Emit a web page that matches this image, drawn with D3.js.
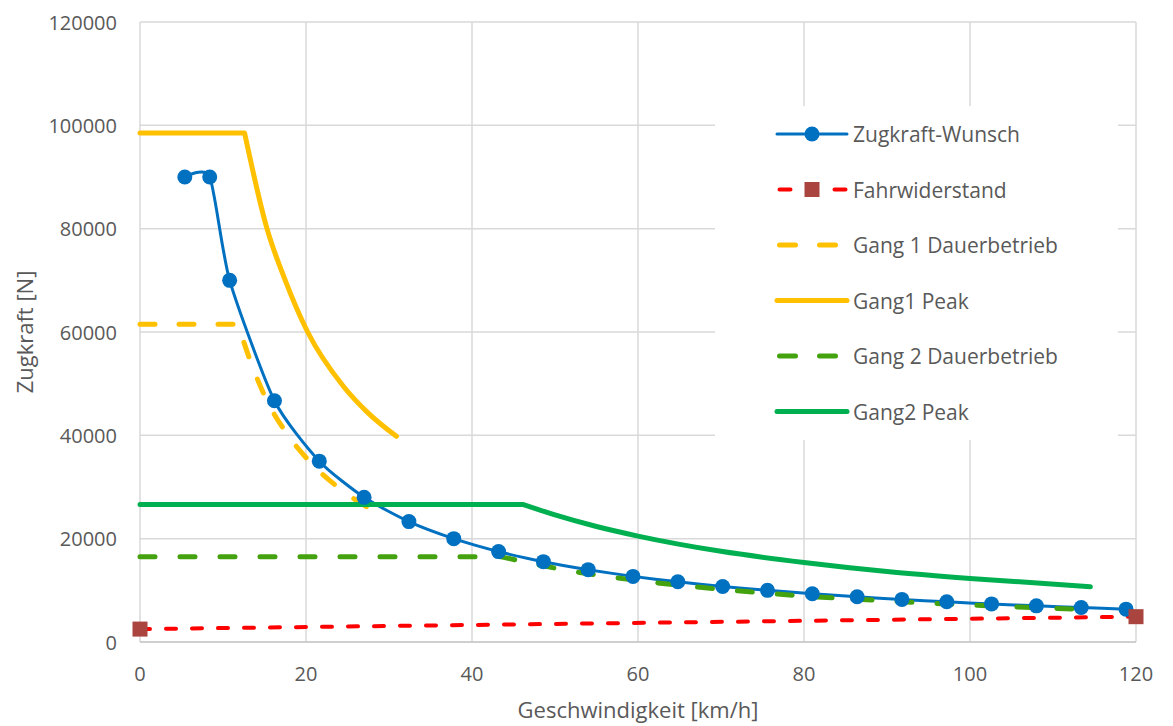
<!DOCTYPE html>
<html lang="de">
<head>
<meta charset="UTF-8">
<title>Zugkraft über Geschwindigkeit</title>
<script src="https://d3js.org/d3.v7.min.js"></script>
<style>
    body { margin: 0; background: #fff; }
    svg { display: block; font-family: "Open Sans", "Noto Sans", sans-serif; }
    .tick-label { fill: #595959; font-size: 20px; }
    .axis-title { fill: #595959; font-size: 22px; }
    .legend-text { fill: #595959; font-size: 21px; }
</style>
</head>
<body>
<svg id="chart" width="1173" height="726"></svg>
<script>
    // axis ticks
    const xTicks = [0, 20, 40, 60, 80, 100, 120];
    const yTicks = [0, 20000, 40000, 60000, 80000, 100000, 120000];

    // Zugkraft-Wunsch (km/h, N)
    const wunschV = [5.4, 8.4, 10.8, 16.2, 21.6, 27, 32.4, 37.8, 43.2, 48.6, 54, 59.4, 64.8, 70.2, 75.6, 81, 86.4, 91.8, 97.2, 102.6, 108, 113.4, 118.8];
    const wunschF = [90000, 90000, 70000, 46700, 35000, 28000, 23300, 20000, 17500, 15550, 14000, 12700, 11650, 10750, 10000, 9330, 8750, 8240, 7780, 7370, 7000, 6670, 6360];

    // Fahrwiderstand
    const widerstandV = [0, 40, 80, 120];
    const widerstandF = [2500, 3300, 4100, 4900];

    // Gang 1 Dauerbetrieb
    const gang1DauerV = [0, 11.8, 13.5, 15.3, 17.8, 21, 25, 28.9];
    const gang1DauerF = [61500, 61500, 53500, 46700, 40100, 34000, 28600, 24700];

    // Gang1 Peak
    const gang1PeakV = [0, 12.6, 15.3, 17.5, 20.2, 24.5, 27.5, 30.9];
    const gang1PeakF = [98500, 98500, 80000, 70000, 60000, 49500, 44300, 39800];

    // Gang 2 Dauerbetrieb
    const gang2DauerV = [0, 43.5, 50, 60, 70, 80, 90, 100, 113.6];
    const gang2DauerF = [16500, 16500, 14300, 11900, 10200, 8900, 7950, 7150, 6330];

    // Gang2 Peak
    const gang2PeakV = [0, 46.2, 50, 55, 60, 70, 80, 90, 100, 114.5];
    const gang2PeakF = [26600, 26600, 24600, 22350, 20500, 17550, 15400, 13650, 12300, 10700];

    const zip = (v, f) => v.map((d, i) => [d, f[i]]);

    const margin = { top: 22, right: 37, bottom: 84, left: 140 };
    const width = 1173 - margin.left - margin.right;
    const height = 726 - margin.top - margin.bottom;

    const svg = d3.select("#chart");
    const g = svg.append("g").attr("transform", `translate(${margin.left},${margin.top})`);

    const x = d3.scaleLinear().domain([0, 120]).range([0, width]);
    const y = d3.scaleLinear().domain([0, 120000]).range([height, 0]);

    // gridlines
    g.append("g").selectAll("line").data(yTicks.slice(1)).join("line")
        .attr("x1", 0).attr("x2", width)
        .attr("y1", d => y(d)).attr("y2", d => y(d))
        .attr("stroke", "#d9d9d9").attr("stroke-width", 1.5);
    g.append("g").selectAll("line").data(xTicks).join("line")
        .attr("x1", d => x(d)).attr("x2", d => x(d))
        .attr("y1", 0).attr("y2", height)
        .attr("stroke", "#d9d9d9").attr("stroke-width", 1.5);
    g.append("line")
        .attr("x1", 0).attr("x2", width).attr("y1", height).attr("y2", height)
        .attr("stroke", "#bfbfbf").attr("stroke-width", 1.5);

    // tick labels
    g.append("g").selectAll("text").data(yTicks).join("text")
        .attr("class", "tick-label")
        .attr("x", -23).attr("y", d => y(d))
        .attr("text-anchor", "end").attr("dominant-baseline", "central")
        .text(d => d);
    g.append("g").selectAll("text").data(xTicks).join("text")
        .attr("class", "tick-label")
        .attr("x", d => x(d)).attr("y", height + 31)
        .attr("text-anchor", "middle").attr("dominant-baseline", "central")
        .text(d => d);

    // axis titles
    svg.append("text").attr("class", "axis-title")
        .attr("x", margin.left + width / 2).attr("y", 718)
        .attr("text-anchor", "middle")
        .text("Geschwindigkeit [km/h]");
    svg.append("text").attr("class", "axis-title")
        .attr("transform", `translate(24,${margin.top + height / 2}) rotate(-90)`)
        .attr("text-anchor", "middle").attr("dominant-baseline", "central")
        .text("Zugkraft [N]");

    const lineLinear = d3.line().x(d => x(d[0])).y(d => y(d[1]));
    const lineSmooth = d3.line().x(d => x(d[0])).y(d => y(d[1])).curve(d3.curveCardinal.tension(0.35));
    const lineMono = d3.line().x(d => x(d[0])).y(d => y(d[1])).curve(d3.curveMonotoneX);

    // flat part straight, then a smooth falling curve from the corner on
    function cornerPath(pts) {
        const flat = lineLinear(pts.slice(0, 2));
        const curve = lineMono(pts.slice(1)).replace(/^M[^C]*/, "");
        return flat + curve;
    }

    const series = [
        { d: lineSmooth(zip(wunschV, wunschF)), color: "#0070c0", w: 3, dash: null },
        { d: lineLinear(zip(widerstandV, widerstandF)), color: "#ff0000", w: 4, dash: "10,16" },
        { d: cornerPath(zip(gang1DauerV, gang1DauerF)), color: "#ffc000", w: 5, dash: "15,24" },
        { d: cornerPath(zip(gang1PeakV, gang1PeakF)), color: "#ffc000", w: 5, dash: null },
        { d: cornerPath(zip(gang2DauerV, gang2DauerF)), color: "#44a20f", w: 5, dash: "15,25" },
        { d: cornerPath(zip(gang2PeakV, gang2PeakF)), color: "#00b050", w: 5, dash: null }
    ];

    g.append("g").selectAll("path").data(series).join("path")
        .attr("d", s => s.d)
        .attr("fill", "none")
        .attr("stroke", s => s.color)
        .attr("stroke-width", s => s.w)
        .attr("stroke-linecap", "round")
        .attr("stroke-linejoin", "round")
        .attr("stroke-dasharray", s => s.dash);

    // markers on top of all lines
    g.append("g").selectAll("circle").data(zip(wunschV, wunschF)).join("circle")
        .attr("cx", d => x(d[0])).attr("cy", d => y(d[1]))
        .attr("r", 7.5).attr("fill", "#0070c0");
    const widerstandPts = zip(widerstandV, widerstandF);
    const widerstandEnds = [widerstandPts[0], widerstandPts[widerstandPts.length - 1]];
    g.append("g").selectAll("rect").data(widerstandEnds).join("rect")
        .attr("x", d => x(d[0]) - 7.5).attr("y", d => y(d[1]) - 7.5)
        .attr("width", 15).attr("height", 15)
        .attr("fill", "#a9443f");

    // legend
    const legendNames = ["Zugkraft-Wunsch", "Fahrwiderstand", "Gang 1 Dauerbetrieb", "Gang1 Peak", "Gang 2 Dauerbetrieb", "Gang2 Peak"];
    svg.append("rect")
        .attr("x", 715).attr("y", 106).attr("width", 403).attr("height", 334)
        .attr("fill", "#fff");
    const leg = svg.append("g").selectAll("g").data(legendNames).join("g")
        .attr("transform", (d, i) => `translate(777,${134 + i * 55.5})`);
    leg.append("line")
        .attr("x1", (d, i) => series[i].dash ? 2.5 : 0)
        .attr("x2", (d, i) => i === 1 ? 69 : (series[i].dash ? 58.5 : 70))
        .attr("y1", 0).attr("y2", 0)
        .attr("stroke", (d, i) => series[i].color)
        .attr("stroke-width", (d, i) => series[i].w)
        .attr("stroke-linecap", "round")
        .attr("stroke-dasharray", (d, i) => i === 1 ? "11,44" : (series[i].dash ? "16,24" : null));
    leg.filter((d, i) => i === 0).append("circle")
        .attr("cx", 35).attr("r", 7.5).attr("fill", "#0070c0");
    leg.filter((d, i) => i === 1).append("rect")
        .attr("x", 27.5).attr("y", -7.5).attr("width", 15).attr("height", 15).attr("fill", "#a9443f");
    leg.append("text").attr("class", "legend-text")
        .attr("x", 76).attr("y", 0).attr("dominant-baseline", "central")
        .text(d => d);
</script>
</body>
</html>
